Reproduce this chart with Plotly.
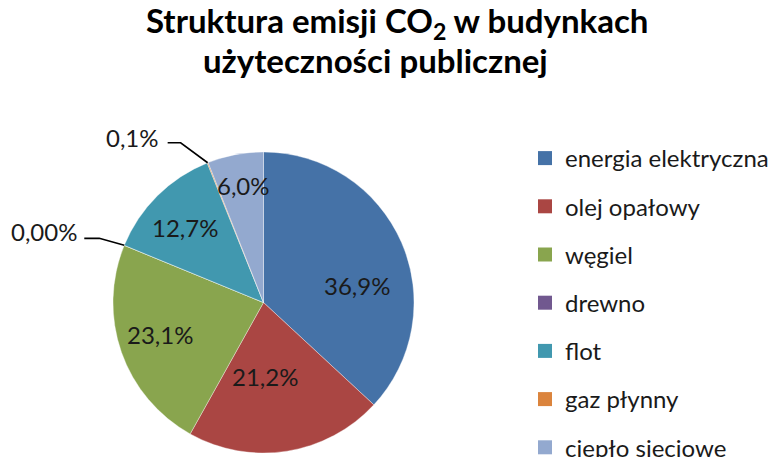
import math
import plotly.graph_objects as go

# ---- data ----
categories = ["energia elektryczna", "olej opałowy", "węgiel", "drewno",
              "flot", "gaz płynny", "ciepło sieciowe"]
values = [36.9, 21.2, 23.1, 0.0, 12.7, 0.1, 6.0]
colors = ["#4572A7", "#AA4643", "#89A54E", "#71588F", "#4198AF", "#DB843D", "#93A9CF"]
outside_labels = {"drewno": 2, "gaz płynny": 1}   # category -> decimals
title_line1 = "Struktura emisji CO<sub>2</sub> w budynkach"
title_line2 = "użyteczności publicznej"

# ---- geometry / style ----
W, H = 776, 457
CX, CY, R = 263.5, 302.5, 150.5
FONT = "Lato"
LBL_FONT = dict(family=FONT, size=24, color="#1a1a1a")
# inside label placement: (radial fraction, angular shift in degrees from slice middle)
inside_place = {"energia elektryczna": (0.63, 13.0), "olej opałowy": (0.495, 7.8),
                "węgiel": (0.72, 1.9), "flot": (0.72, -1.7), "ciepło sieciowe": (0.79, 0.9)}

def px2paper(px, py):
    return px / W, 1 - py / H

total = sum(values)

fig = go.Figure()
fig.add_trace(go.Pie(
    labels=categories, values=values, sort=False, direction="clockwise", rotation=0,
    marker=dict(colors=colors, line=dict(color="rgba(255,255,255,0.6)", width=0.6)),
    textinfo="none",
    domain=dict(x=[(CX - R) / W, (CX + R) / W], y=[1 - (CY + R) / H, 1 - (CY - R) / H]),
    showlegend=False, hoverinfo="label+percent",
))

# legend entries as dummy traces so the spacing can match
for c, col in zip(categories, colors):
    fig.add_trace(go.Scatter(
        x=[None], y=[None], mode="markers", name=c, legendgroup=c,
        marker=dict(symbol="square", size=14, color=col), hoverinfo="skip"))

# data labels
leader_offsets = {"drewno": [(-25, -7), (-15, 0)], "gaz płynny": [(-27, -20), (-13, 0)]}
label_gap = {"drewno": (5, -7), "gaz płynny": (7, -5)}
shapes, annotations = [], []
cum = 0.0
for c, v in zip(categories, values):
    frac = (cum + v / 2) / total
    th = 2 * math.pi * frac
    if c in outside_labels:
        ex, ey = CX + R * math.sin(th), CY - R * math.cos(th)
        (d1x, d1y), (d2x, d2y) = leader_offsets[c]
        mx, my = ex + d1x, ey + d1y
        lx, ly = mx + d2x, my + d2y
        p = [px2paper(ex, ey), px2paper(mx, my), px2paper(lx, ly)]
        shapes.append(dict(type="path", xref="paper", yref="paper",
                           path="M {} {} L {} {} L {} {}".format(p[0][0], p[0][1], p[1][0], p[1][1], p[2][0], p[2][1]),
                           line=dict(color="black", width=1.6)))
        gx, gy = label_gap[c]
        ax, ay = px2paper(lx - gx, ly + gy)
        txt = f"{v / total * 100:.{outside_labels[c]}f}".replace(".", ",") + "%"
        annotations.append(dict(x=ax, y=ay, xref="paper", yref="paper", text=txt,
                                showarrow=False, xanchor="right", yanchor="middle",
                                font=LBL_FONT))
    else:
        rf, shift = inside_place[c]
        ang = th + math.radians(shift)
        rr = rf * R
        ax, ay = px2paper(CX + rr * math.sin(ang), CY - rr * math.cos(ang))
        txt = f"{v / total * 100:.1f}".replace(".", ",") + "%"
        annotations.append(dict(x=ax, y=ay, xref="paper", yref="paper", text=txt,
                                showarrow=False, xanchor="center", yanchor="middle",
                                font=LBL_FONT))
    cum += v

# title
for txt, (tx, ty) in [(title_line1, (397, 22)), (title_line2, (375, 60))]:
    x, y = px2paper(tx, ty)
    annotations.append(dict(x=x, y=y, xref="paper", yref="paper", text=txt, showarrow=False,
                            xanchor="center", yanchor="middle",
                            font=dict(family=FONT, size=33, color="black", weight="bold")))

lx0, ly0 = px2paper(525, 136)
fig.update_layout(
    width=W, height=H, margin=dict(l=0, r=0, t=0, b=0, autoexpand=False),
    paper_bgcolor="white", plot_bgcolor="white", separators=", ",
    xaxis=dict(visible=False), yaxis=dict(visible=False),
    legend=dict(x=lx0, y=ly0, xanchor="left", yanchor="top", tracegroupgap=14,
                font=dict(family=FONT, size=24, color="#1a1a1a"), bgcolor="rgba(0,0,0,0)"),
    shapes=shapes, annotations=annotations,
)
fig.write_html("out.html", config={"displayModeBar": False},
               post_script="document.body.style.margin='0px';")
